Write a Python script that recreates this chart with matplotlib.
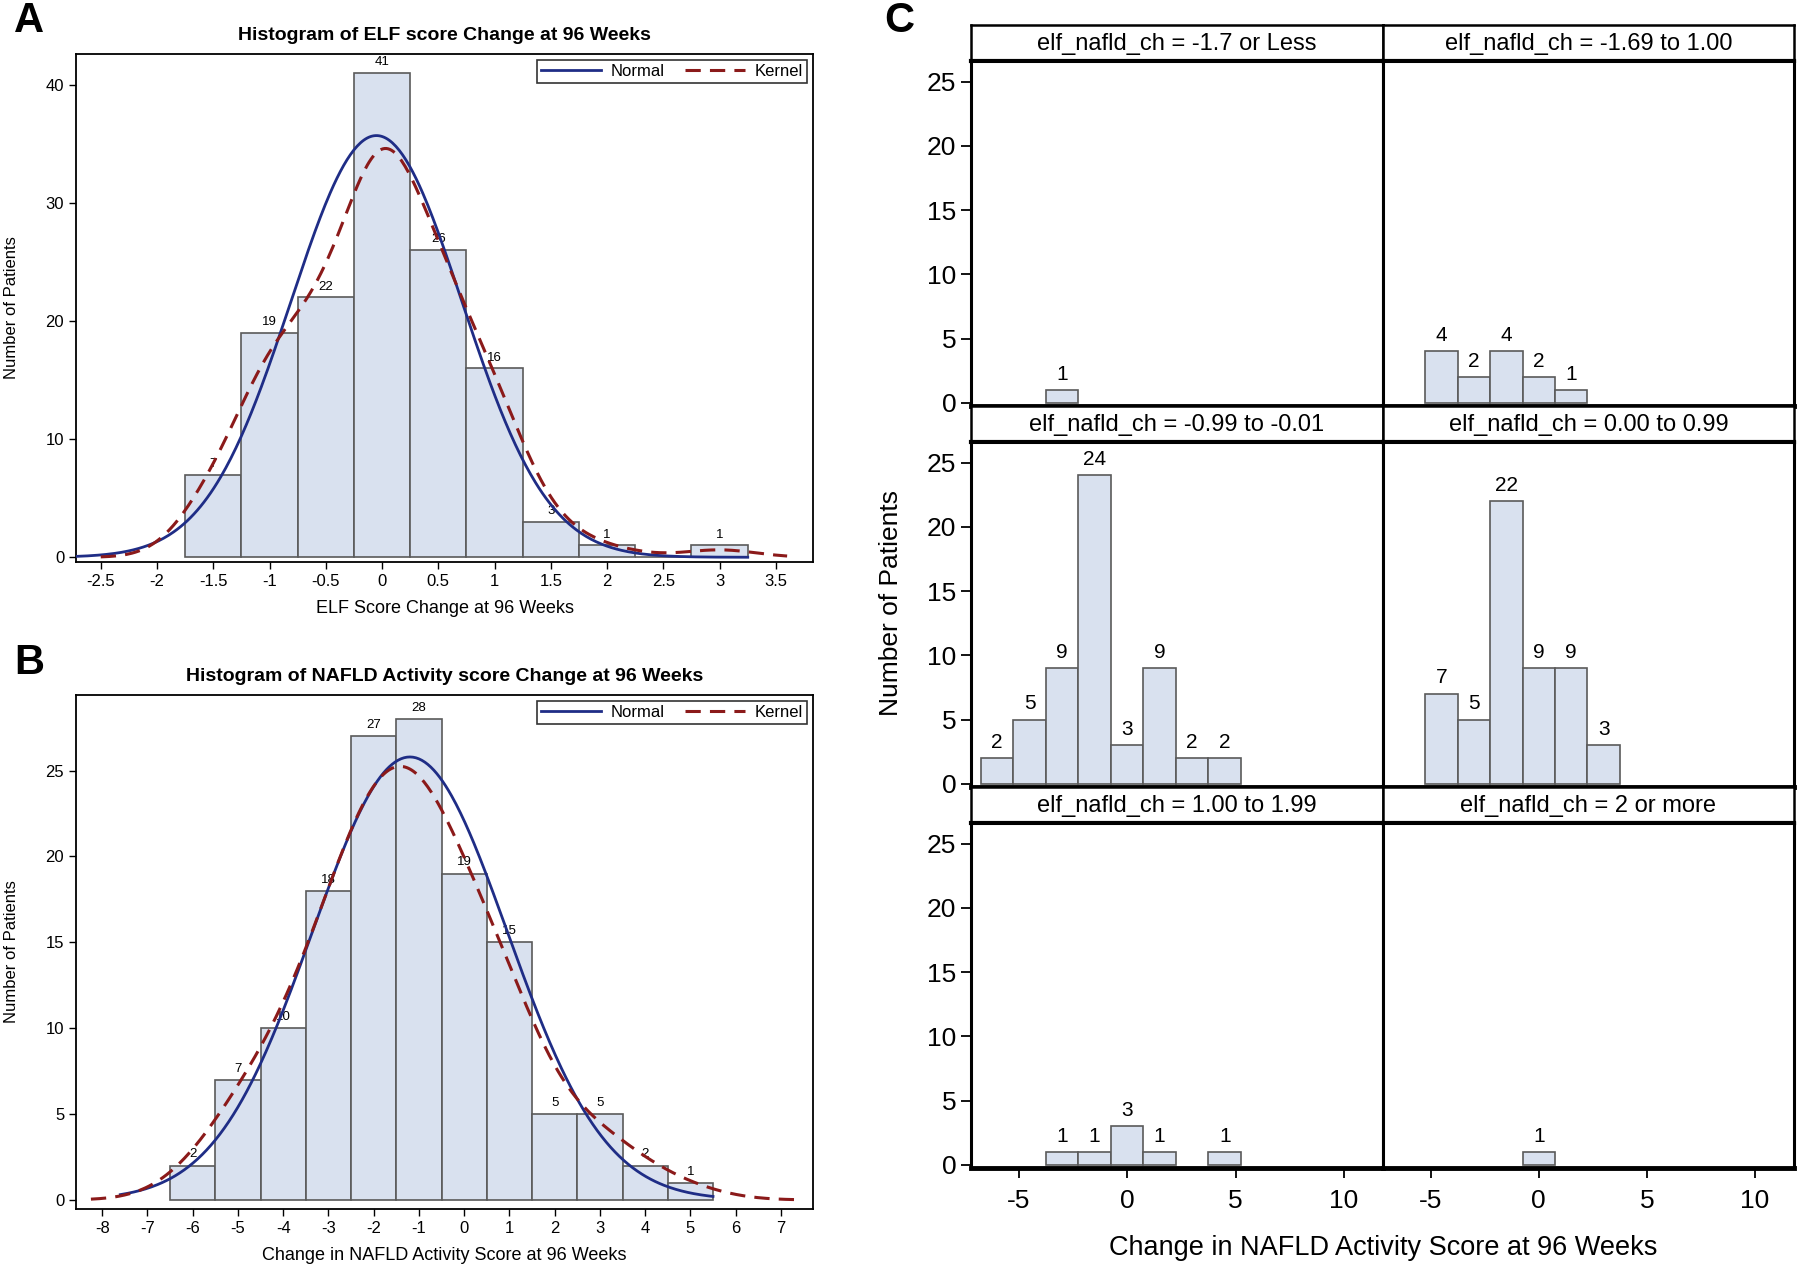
import matplotlib.pyplot as plt
import numpy as np

plt.rcParams['font.family'] = ['Liberation Sans Narrow', 'Liberation Sans', 'DejaVu Sans']
plt.rcParams['axes.unicode_minus'] = False

# ---- data -------------------------------------------------------------
# Panel A: ELF score change at 96 weeks (bin width 0.5)
elf_centers = [-1.5, -1.0, -0.5, 0.0, 0.5, 1.0, 1.5, 2.0, 2.5, 3.0]
elf_counts = [7, 19, 22, 41, 26, 16, 3, 1, 0, 1]
elf_ticks = [-2.5, -2, -1.5, -1, -0.5, 0, 0.5, 1, 1.5, 2, 2.5, 3, 3.5]
elf_yticks = [0, 10, 20, 30, 40]
elf_mean, elf_sd = -0.05, 0.76
elf_bw = 0.32

# Panel B: NAFLD activity score change at 96 weeks (bin width 1)
nas_centers = [-6, -5, -4, -3, -2, -1, 0, 1, 2, 3, 4, 5]
nas_counts = [2, 7, 10, 18, 27, 28, 19, 15, 5, 5, 2, 1]
nas_ticks = [-8, -7, -6, -5, -4, -3, -2, -1, 0, 1, 2, 3, 4, 5, 6, 7]
nas_yticks = [0, 5, 10, 15, 20, 25]
nas_mean, nas_sd = -1.2, 2.15
nas_bw = 0.9

# Panel C: NAS change by ELF-change stratum (bin width 1.5)
strata = ['elf_nafld_ch = -1.7 or Less', 'elf_nafld_ch = -1.69 to 1.00',
          'elf_nafld_ch = -0.99 to -0.01', 'elf_nafld_ch = 0.00 to 0.99',
          'elf_nafld_ch = 1.00 to 1.99', 'elf_nafld_ch = 2 or more']
strata_centers = [[-3], [-4.5, -3, -1.5, 0, 1.5],
                  [-6, -4.5, -3, -1.5, 0, 1.5, 3, 4.5],
                  [-4.5, -3, -1.5, 0, 1.5, 3],
                  [-3, -1.5, 0, 1.5, 4.5], [0]]
strata_counts = [[1], [4, 2, 4, 2, 1], [2, 5, 9, 24, 3, 9, 2, 2],
                 [7, 5, 22, 9, 9, 3], [1, 1, 3, 1, 1], [1]]
c_xticks = [-5, 0, 5, 10]
c_yticks = [0, 5, 10, 15, 20, 25]

FILL = '#d9e1ef'
EDGE = '#5a5a5a'
BLUE = '#1f2d86'
RED = '#8b1a1a'
W, H = 1800, 1266


def box(l, t, r, b):
    return [l / W, 1 - b / H, (r - l) / W, (b - t) / H]


def binned_kde(x, centers, counts, bw, width):
    c = np.asarray(centers, float)[:, None]
    n = np.asarray(counts, float)[:, None]
    dens = (n * np.exp(-0.5 * ((x - c) / bw) ** 2)).sum(0)
    return dens * width / (bw * np.sqrt(2 * np.pi))


def normal_curve(x, n, mean, sd, width):
    return n * width * np.exp(-0.5 * ((x - mean) / sd) ** 2) / (sd * np.sqrt(2 * np.pi))


def hist_panel(ax, centers, counts, width, mean, sd, bw, nrange, krange,
               xticks, yticks, xlim, ylim, title, xlabel, lab_off):
    ax.bar(centers, counts, width=width, color=FILL, edgecolor=EDGE, linewidth=1.2, zorder=1)
    for c, n in zip(centers, counts):
        if n > 0:
            ax.text(c, n + lab_off, str(n), ha='center', va='bottom', fontsize=9.5, zorder=2)
    xn = np.linspace(nrange[0], nrange[1], 400)
    xk = np.linspace(krange[0], krange[1], 400)
    ax.plot(xn, normal_curve(xn, sum(counts), mean, sd, width), color=BLUE, lw=2, zorder=3,
            label='Normal')
    ax.plot(xk, binned_kde(xk, centers, counts, bw, width), color=RED, lw=2.2,
            dashes=(5, 3), zorder=3, label='Kernel')
    ax.set_xlim(*xlim)
    ax.set_ylim(*ylim)
    ax.set_xticks(xticks)
    ax.set_xticklabels([f'{t:g}' for t in xticks])
    ax.set_yticks(yticks)
    ax.tick_params(labelsize=12, length=5, width=1, direction='out')
    for s in ax.spines.values():
        s.set_linewidth(1.3)
    ax.set_title(title, fontsize=14, fontweight='bold', pad=10)
    ax.set_xlabel(xlabel, fontsize=13, labelpad=8)
    ax.set_ylabel('Number of Patients', fontsize=12, family='Liberation Sans')
    ax.yaxis.set_label_coords(-0.077, 0.5)
    leg = ax.legend(loc='upper right', ncol=2, fontsize=12, frameon=True, fancybox=False,
                    edgecolor='black', handlelength=3.6, columnspacing=1.2,
                    handletextpad=0.6, borderaxespad=0.35, borderpad=0.25)
    leg.get_frame().set_linewidth(1.2)


fig = plt.figure(figsize=(18, 12.66), dpi=100)

axA = fig.add_axes(box(76, 54, 813, 562))
hist_panel(axA, elf_centers, elf_counts, 0.5, elf_mean, elf_sd, elf_bw,
           (-2.72, 3.25), (-2.5, 3.6), elf_ticks, elf_yticks, (-2.72, 3.83), (-0.4, 42.6),
           'Histogram of ELF score Change at 96 Weeks', 'ELF Score Change at 96 Weeks', 0.4)

axB = fig.add_axes(box(76, 695, 813, 1209))
hist_panel(axB, nas_centers, nas_counts, 1.0, nas_mean, nas_sd, nas_bw,
           (-7.6, 5.5), (-8.25, 7.3), nas_ticks, nas_yticks, (-8.58, 7.71), (-0.53, 29.4),
           'Histogram of NAFLD Activity score Change at 96 Weeks',
           'Change in NAFLD Activity Score at 96 Weeks', 0.3)

# ---- panel C: paneled histograms --------------------------------------
col_edges = [(971, 1383), (1383, 1794)]
top0, hdr, plot_h = 25, 36, 345
for i, (lab, cen, cnt) in enumerate(zip(strata, strata_centers, strata_counts)):
    r, c = divmod(i, 2)
    l, rr = col_edges[c]
    t = top0 + r * (hdr + plot_h)
    hax = fig.add_axes(box(l, t, rr, t + hdr))
    hax.set_xticks([])
    hax.set_yticks([])
    for s in hax.spines.values():
        s.set_linewidth(1.8)
    hax.spines['bottom'].set_linewidth(3)
    hax.text(0.5, 0.48, lab, ha='center', va='center', fontsize=17, transform=hax.transAxes)

    ax = fig.add_axes(box(l, t + hdr, rr, t + hdr + plot_h))
    ax.bar(cen, cnt, width=1.5, color=FILL, edgecolor=EDGE, linewidth=1.2)
    for x, n in zip(cen, cnt):
        ax.text(x, n + 0.5, str(n), ha='center', va='bottom', fontsize=15)
    ax.set_xlim(-7.2, 11.8)
    ax.set_ylim(-0.25, 26.6)
    ax.set_xticks(c_xticks)
    ax.set_yticks(c_yticks)
    ax.tick_params(labelsize=19, length=7, width=1.3, direction='out')
    ax.tick_params(axis='x', pad=8)
    for s in ax.spines.values():
        s.set_linewidth(2.2)
    ax.spines['bottom'].set_linewidth(3.5)
    if r < 2:
        ax.tick_params(axis='x', bottom=False, labelbottom=False)
    if c == 1:
        ax.tick_params(axis='y', left=False, labelleft=False)

fig.text(891 / W, 1 - 603 / H, 'Number of Patients', rotation=90, ha='center', va='center',
         fontsize=19, family='Liberation Sans')
fig.text(1383 / W, 1 - 1248 / H, 'Change in NAFLD Activity Score at 96 Weeks',
         ha='center', va='center', fontsize=19.5)

for letter, x, y in [('A', 29, 21), ('B', 29, 663), ('C', 899, 21)]:
    fig.text(x / W, 1 - y / H, letter, ha='center', va='center', fontsize=30,
             fontweight='bold', family='Liberation Sans')

fig.savefig('out.png', dpi=100)
